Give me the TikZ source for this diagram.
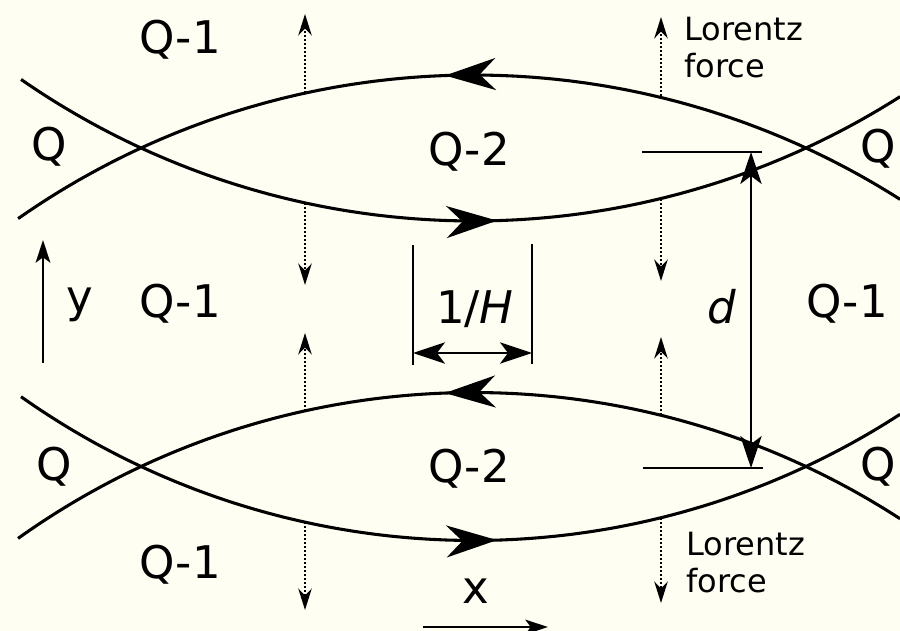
\documentclass[tikz,border=0pt]{standalone}
\usepackage{fontspec}
\setmainfont{DejaVu Sans}
\usetikzlibrary{arrows.meta,decorations.markings}
\definecolor{bg}{RGB}{254,254,242}
\begin{document}
\begin{tikzpicture}[x=0.75pt,y=-0.75pt,
  curve/.style={line width=2.3pt},
  big/.style={font=\fontsize{33.75}{40}\selectfont, inner sep=0pt, anchor=base},
  small/.style={font=\fontsize{24}{27.5}\selectfont, inner sep=0pt, align=left, anchor=north west},
  midarrow/.style={postaction={decorate,decoration={markings,mark=at position #1 with {\arrow{Stealth[length=38pt,width=24pt,inset=12pt]}}}}},
  thinline/.style={line width=1.5pt},
  dimarrow/.style={line width=1.5pt,{Stealth[length=24pt,width=16pt,inset=6pt]}-{Stealth[length=24pt,width=16pt,inset=6pt]}},
  lorentz/.style={line width=1.9pt,dash pattern=on 1.5pt off 1.5pt,-{Stealth[length=16pt,width=10pt,inset=5pt]}},
  axisarrow/.style={line width=1.5pt,-{Stealth[length=17pt,width=11pt,inset=4pt]}}]

\fill[bg] (0,0) rectangle (900,631);
\useasboundingbox (0,0) rectangle (900,631);

% upper lens
\draw[curve, midarrow=0.512] plot[domain=302.5:235, samples=120] ({473.5+794*cos(\x)},{869+794*sin(\x)});
\draw[curve, midarrow=0.542] plot[domain=124.74:57.5, samples=120] ({473.5+794*cos(\x)},{-573+794*sin(\x)});
% lower lens
\draw[curve, midarrow=0.512] plot[domain=302.96:234.48, samples=120] ({473.5+784*cos(\x)},{1176.5+784*sin(\x)});
\draw[curve, midarrow=0.542] plot[domain=125.25:57.04, samples=120] ({473.5+784*cos(\x)},{-243.5+784*sin(\x)});

% Lorentz force arrows
\coordinate (l1a) at (305,93);  \coordinate (l1b) at (305,14);
\coordinate (l2a) at (305,203); \coordinate (l2b) at (305,285);
\coordinate (l3a) at (305,411); \coordinate (l3b) at (305,333);
\coordinate (l4a) at (305,522); \coordinate (l4b) at (305,610);
\coordinate (r1a) at (661,96);  \coordinate (r1b) at (661,17);
\coordinate (r2a) at (661,199); \coordinate (r2b) at (661,281);
\coordinate (r3a) at (661,415); \coordinate (r3b) at (661,337);
\coordinate (r4a) at (661,518); \coordinate (r4b) at (661,603);
\foreach \p in {l1,l2,l3,l4,r1,r2,r3,r4}{\draw[lorentz] (\p a) -- (\p b);}

% 1/H dimension
\coordinate (h1t) at (413,245); \coordinate (h1b) at (413,365);
\coordinate (h2t) at (532,244); \coordinate (h2b) at (532,364);
\draw[thinline] (h1t) -- (h1b);
\draw[thinline] (h2t) -- (h2b);
\coordinate (ha) at (413,353); \coordinate (hb) at (532,353);
\draw[dimarrow] (ha) -- (hb);

% d dimension
\coordinate (d1l) at (642,152); \coordinate (d1r) at (762,152);
\coordinate (d2l) at (643,468); \coordinate (d2r) at (763,468);
\draw[thinline] (d1l) -- (d1r);
\draw[thinline] (d2l) -- (d2r);
\coordinate (da) at (751,152); \coordinate (db) at (751,468);
\draw[dimarrow] (da) -- (db);

% axes
\coordinate (ya) at (43,363); \coordinate (yb) at (43,240);
\draw[axisarrow] (ya) -- (yb);
\coordinate (xa) at (423,627); \coordinate (xb) at (548,627);
\draw[axisarrow] (xa) -- (xb);

% labels
\node[big] (q1a) at (180,54) {Q-1};
\node[big] (qa) at (49,161) {Q};
\node[big] (q2a) at (469,166) {Q-2};
\node[big, anchor=base west] (qb) at (860,163) {Q};
\node[big] (ylab) at (80,312) {y};
\node[big] (q1b) at (180,317) {Q-1};
\node[big] (hlab) at (475,323) {1/\textit{H}};
\node[big] (dlab) at (722,323) {\textit{d}};
\node[big] (q1c) at (847,317) {Q-1};
\node[big] (qc) at (54,480) {Q};
\node[big] (q2b) at (469,482) {Q-2};
\node[big, anchor=base west] (qd) at (860,480) {Q};
\node[big] (q1d) at (180,578) {Q-1};
\node[big] (xlab) at (476,603) {x};
\node[small] (lft) at (684,17) {Lorentz\\force};
\node[small] (lfb) at (686,532) {Lorentz\\force};
\end{tikzpicture}
\end{document}
